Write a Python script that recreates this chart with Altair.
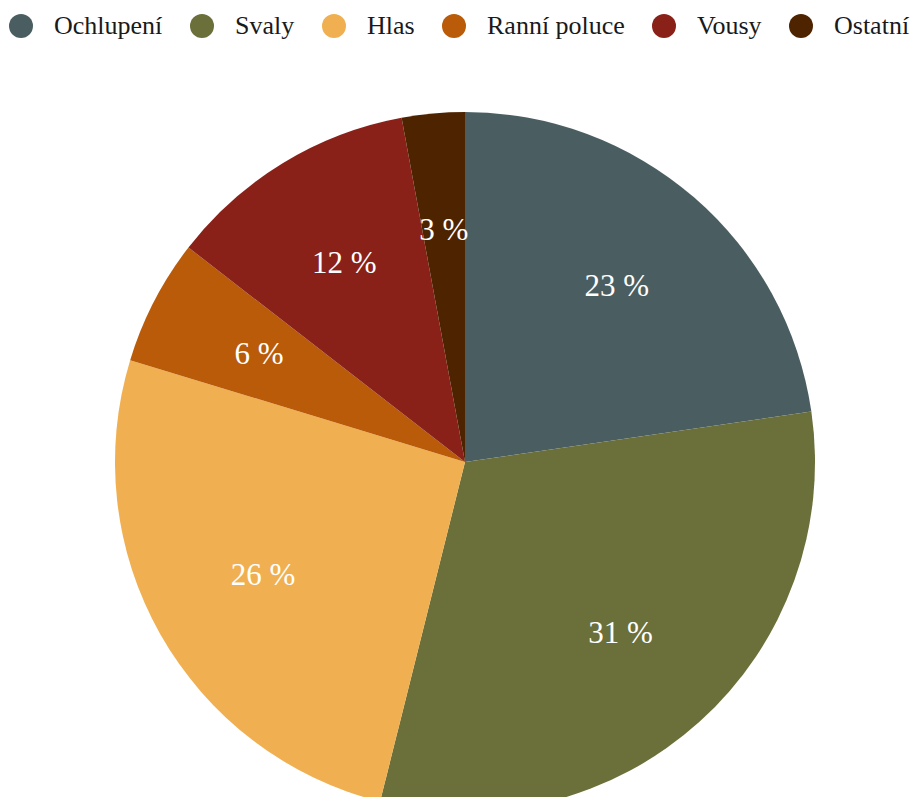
import altair as alt
import pandas as pd

categories = ["Ochlupení", "Svaly", "Hlas", "Ranní poluce", "Vousy", "Ostatní"]
values = [22.7, 31.2, 25.8, 5.8, 11.6, 2.9]
labels = ["23 %", "31 %", "26 %", "6 %", "12 %", "3 %"]
colors = ["#4a5e62", "#6b6f3a", "#f0b051", "#b95b08", "#8a2119", "#4e2400"]

df = pd.DataFrame({"kategorie": categories, "hodnota": values, "popisek": labels,
                   "poradi": list(range(len(categories)))})

CX, CY, R = 457, 454, 350
FONT = "Liberation Serif"

base = alt.Chart(df).encode(
    theta=alt.Theta("hodnota:Q", stack=True),
    order=alt.Order("poradi:Q"),
)

pie = base.mark_arc(outerRadius=R).encode(
    x=alt.value(CX), y=alt.value(CY),
    color=alt.Color(
        "kategorie:N",
        scale=alt.Scale(domain=categories, range=colors),
        sort=categories,
        legend=alt.Legend(
            title=None, orient="none", direction="horizontal",
            legendX=0, legendY=5,
            symbolType="circle", symbolSize=576, symbolStrokeWidth=0,
            labelFont=FONT, labelFontSize=26, labelColor="#1a1a1a",
            labelOffset=20, columnPadding=26, labelLimit=400,
        ),
    ),
)

text = base.mark_text(radius=232, font=FONT, fontSize=31,
                      color="white").encode(
    x=alt.value(CX), y=alt.value(CY),
    text="popisek:N",
)

chart = (pie + text).properties(
    width=904, height=789,
    autosize=alt.AutoSizeParams(type="none"),
    padding=0,
).configure(font=FONT).configure_view(stroke=None)

chart.save("out.html", embed_options={"renderer": "svg", "actions": False})
